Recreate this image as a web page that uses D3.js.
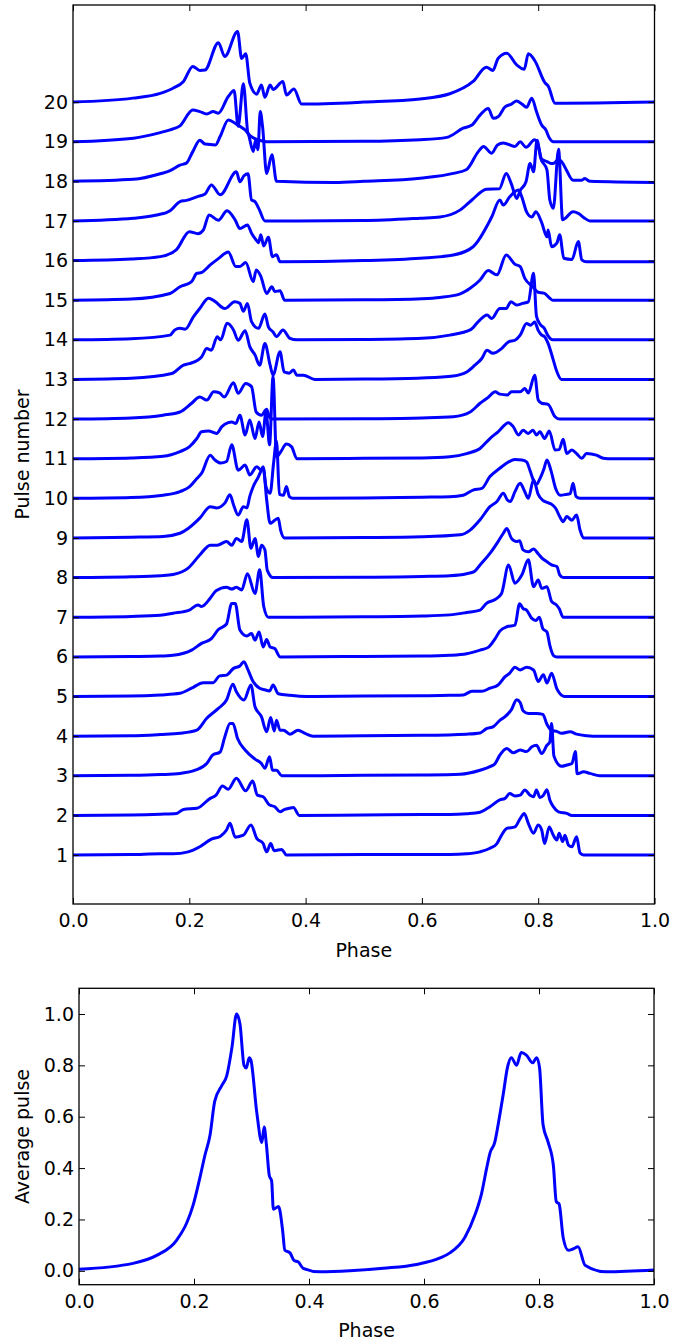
<!DOCTYPE html>
<html>
<head>
<meta charset="utf-8">
<script src="https://cdn.jsdelivr.net/npm/d3@7"></script>
<style>
  body { margin: 0; background: #fff; }
  text { font-family: "DejaVu Sans", sans-serif; }
</style>
</head>
<body>
<div id="chart"></div>
<script>
// each pulse: [phase, height above its own baseline]
const p1 = [[0,0],[0.1,0.01],[0.15,0.03],[0.172,0.03],[0.198,0.08],[0.218,0.21],[0.238,0.4],[0.253,0.47],[0.264,0.63],[0.27,0.8],[0.279,0.45],[0.293,0.5],[0.306,0.76],[0.316,0.42],[0.327,0.29],[0.333,0.08],[0.34,0.29],[0.346,0.11],[0.359,0.14],[0.367,0],[0.5,0.01],[0.6,0.01],[0.648,0.01],[0.677,0.03],[0.7,0.08],[0.717,0.17],[0.729,0.29],[0.737,0.5],[0.746,0.67],[0.76,0.71],[0.769,0.92],[0.776,1.05],[0.783,0.8],[0.792,0.55],[0.8,0.76],[0.806,0.63],[0.811,0.29],[0.819,0.71],[0.826,0.5],[0.832,0.38],[0.836,0.55],[0.842,0.34],[0.846,0.5],[0.852,0.25],[0.858,0.21],[0.866,0.46],[0.872,0.05],[0.878,0],[1,0]];
const p2 = [[0,0],[0.1,0.01],[0.15,0.03],[0.178,0.05],[0.19,0.15],[0.213,0.18],[0.236,0.43],[0.246,0.51],[0.257,0.74],[0.267,0.66],[0.281,0.94],[0.297,0.62],[0.309,0.87],[0.317,0.51],[0.327,0.47],[0.338,0.26],[0.347,0.22],[0.356,0.09],[0.364,0.15],[0.372,0.18],[0.379,0.2],[0.389,0],[0.5,0.01],[0.6,0.02],[0.648,0.02],[0.677,0.04],[0.7,0.08],[0.717,0.22],[0.734,0.39],[0.743,0.43],[0.751,0.55],[0.76,0.49],[0.769,0.51],[0.777,0.64],[0.786,0.51],[0.792,0.47],[0.797,0.64],[0.803,0.45],[0.809,0.51],[0.815,0.65],[0.82,0.39],[0.826,0.22],[0.835,0.09],[0.849,0.05],[0.858,0],[1,0]];
const p3 = [[0,0],[0.1,0.01],[0.15,0.03],[0.184,0.06],[0.21,0.14],[0.23,0.31],[0.24,0.52],[0.253,0.6],[0.261,0.98],[0.27,1.32],[0.275,1.32],[0.283,0.94],[0.296,0.65],[0.313,0.42],[0.324,0.31],[0.33,0.19],[0.338,0.48],[0.343,0.14],[0.35,0.14],[0.359,0],[0.5,0.01],[0.6,0.02],[0.666,0.04],[0.7,0.14],[0.717,0.23],[0.726,0.31],[0.734,0.52],[0.746,0.69],[0.757,0.58],[0.769,0.65],[0.78,0.61],[0.789,0.73],[0.797,0.77],[0.806,0.56],[0.815,0.77],[0.82,0.85],[0.823,1.32],[0.827,0.5],[0.84,0.24],[0.849,0.27],[0.858,0.31],[0.864,0.61],[0.867,0.05],[0.878,0.1],[0.889,0.06],[0.906,0],[1,0]];
const p4 = [[0,0],[0.1,0.01],[0.15,0.04],[0.184,0.07],[0.213,0.15],[0.23,0.45],[0.25,0.7],[0.264,0.91],[0.275,1.31],[0.281,1.12],[0.294,0.91],[0.306,1.29],[0.313,0.74],[0.324,0.49],[0.333,0.11],[0.34,0.47],[0.346,0.13],[0.35,0.4],[0.356,0.15],[0.362,0.15],[0.373,0.05],[0.387,0.15],[0.399,0.07],[0.413,0],[0.5,0.01],[0.6,0.02],[0.677,0.05],[0.7,0.08],[0.711,0.19],[0.723,0.24],[0.734,0.4],[0.743,0.49],[0.754,0.67],[0.763,0.92],[0.769,0.85],[0.774,0.64],[0.783,0.57],[0.797,0.57],[0.808,0.55],[0.815,0.3],[0.823,0.15],[0.832,0.12],[0.84,0.07],[0.855,0.11],[0.866,0.05],[0.883,0.01],[0.894,0],[1,0]];
const p5 = [[0,0],[0.1,0.01],[0.15,0.04],[0.184,0.08],[0.204,0.21],[0.224,0.35],[0.241,0.35],[0.252,0.52],[0.264,0.54],[0.276,0.71],[0.287,0.77],[0.294,0.88],[0.301,0.67],[0.31,0.37],[0.321,0.21],[0.33,0.17],[0.338,0.14],[0.344,0.29],[0.353,0.07],[0.373,0.03],[0.402,0],[0.5,0.01],[0.6,0.02],[0.648,0.03],[0.671,0.04],[0.686,0.13],[0.703,0.13],[0.717,0.21],[0.731,0.29],[0.743,0.5],[0.751,0.59],[0.76,0.74],[0.769,0.67],[0.78,0.74],[0.792,0.67],[0.8,0.38],[0.809,0.55],[0.815,0.34],[0.823,0.59],[0.832,0.2],[0.837,0.08],[0.846,0],[1,0]];
const p6 = [[0,0],[0.1,0.01],[0.15,0.02],[0.172,0.04],[0.204,0.17],[0.221,0.34],[0.238,0.46],[0.25,0.69],[0.264,0.83],[0.273,1.35],[0.279,1.35],[0.287,0.68],[0.299,0.53],[0.307,0.59],[0.313,0.42],[0.32,0.63],[0.327,0.25],[0.333,0.44],[0.339,0.25],[0.347,0.21],[0.356,0],[0.5,0.01],[0.6,0.02],[0.648,0.04],[0.677,0.08],[0.7,0.17],[0.714,0.24],[0.726,0.46],[0.734,0.65],[0.746,0.76],[0.76,0.8],[0.768,1.34],[0.774,1.22],[0.78,1.18],[0.789,0.97],[0.796,0.92],[0.802,1.0],[0.808,0.71],[0.815,0.63],[0.82,0.29],[0.826,0.04],[0.832,0],[1,0]];
const p7 = [[0,0],[0.1,0.02],[0.15,0.05],[0.172,0.1],[0.2,0.18],[0.215,0.31],[0.221,0.27],[0.236,0.48],[0.246,0.67],[0.264,0.76],[0.273,0.71],[0.281,0.76],[0.29,0.69],[0.3,1.1],[0.313,0.6],[0.321,1.2],[0.328,0.27],[0.336,0],[0.5,0.01],[0.6,0.03],[0.648,0.06],[0.677,0.12],[0.7,0.18],[0.711,0.35],[0.726,0.45],[0.737,0.6],[0.749,1.32],[0.76,0.86],[0.772,1.07],[0.783,1.45],[0.792,0.77],[0.8,0.94],[0.806,0.73],[0.815,0.77],[0.823,0.4],[0.832,0.3],[0.836,0.22],[0.843,0],[1,0]];
const p8 = [[0,0],[0.1,0.02],[0.15,0.05],[0.172,0.08],[0.198,0.24],[0.218,0.57],[0.236,0.82],[0.248,0.82],[0.264,0.91],[0.273,0.82],[0.281,0.99],[0.29,0.91],[0.299,1.46],[0.306,0.74],[0.313,0.99],[0.319,0.53],[0.324,0.82],[0.33,0.7],[0.334,0.19],[0.344,0],[0.5,0.01],[0.6,0.03],[0.648,0.05],[0.677,0.1],[0.69,0.15],[0.7,0.32],[0.717,0.61],[0.731,0.91],[0.74,1.12],[0.746,1.24],[0.754,0.99],[0.763,0.91],[0.768,0.93],[0.774,0.7],[0.783,0.65],[0.792,0.72],[0.8,0.6],[0.806,0.5],[0.815,0.4],[0.823,0.32],[0.832,0.28],[0.837,0.07],[0.843,0],[1,0]];
const p9 = [[0,0],[0.1,0.02],[0.155,0.04],[0.184,0.12],[0.198,0.24],[0.218,0.5],[0.236,0.79],[0.247,0.76],[0.261,0.88],[0.27,1.09],[0.276,0.84],[0.284,0.58],[0.293,0.79],[0.299,0.76],[0.304,1.05],[0.31,1.3],[0.319,1.55],[0.324,1.72],[0.327,1.8],[0.333,0.97],[0.339,0.37],[0.347,0.45],[0.353,0.5],[0.357,0.2],[0.364,0],[0.5,0.01],[0.6,0.03],[0.666,0.08],[0.683,0.2],[0.7,0.46],[0.717,0.79],[0.729,0.92],[0.74,1.13],[0.747,0.96],[0.752,0.92],[0.76,1.17],[0.769,1.38],[0.776,1.2],[0.783,1.0],[0.792,1.47],[0.8,1.1],[0.808,0.95],[0.815,0.9],[0.823,0.85],[0.83,0.75],[0.837,0.54],[0.843,0.41],[0.849,0.54],[0.858,0.45],[0.866,0.58],[0.872,0.2],[0.878,0],[1,0]];
const p10 = [[0,0],[0.1,0.02],[0.155,0.08],[0.184,0.17],[0.2,0.29],[0.213,0.5],[0.221,0.63],[0.236,1.09],[0.244,0.97],[0.254,0.89],[0.264,0.93],[0.273,1.35],[0.284,0.71],[0.296,0.84],[0.304,0.59],[0.316,0.8],[0.323,0.72],[0.327,0.76],[0.332,0.29],[0.339,0.13],[0.345,0.9],[0.35,1.45],[0.355,0.1],[0.362,0.08],[0.367,0.3],[0.372,0.05],[0.378,0],[0.5,0.01],[0.6,0.03],[0.648,0.04],[0.671,0.08],[0.688,0.21],[0.703,0.25],[0.717,0.55],[0.734,0.76],[0.749,0.92],[0.76,0.98],[0.772,0.97],[0.78,0.92],[0.786,0.7],[0.792,0.45],[0.797,0.35],[0.803,0.5],[0.81,0.75],[0.815,0.97],[0.822,0.7],[0.83,0.25],[0.838,0.08],[0.848,0.1],[0.855,0.12],[0.86,0.38],[0.865,0.05],[0.872,0],[1,0]];
const p11 = [[0,0],[0.1,0.02],[0.155,0.06],[0.184,0.18],[0.2,0.3],[0.213,0.51],[0.221,0.68],[0.233,0.7],[0.247,0.64],[0.256,0.81],[0.267,0.91],[0.273,0.93],[0.28,0.89],[0.287,1.1],[0.296,0.6],[0.304,0.98],[0.313,0.51],[0.32,0.93],[0.326,0.56],[0.332,1.19],[0.338,0.35],[0.344,2.07],[0.35,0.05],[0.357,0.17],[0.367,0.37],[0.376,0.3],[0.385,0],[0.5,0.01],[0.6,0.02],[0.648,0.05],[0.677,0.13],[0.7,0.26],[0.717,0.51],[0.731,0.68],[0.749,0.91],[0.757,0.81],[0.766,0.6],[0.774,0.72],[0.783,0.64],[0.791,0.72],[0.797,0.6],[0.803,0.68],[0.811,0.51],[0.819,0.7],[0.829,0.22],[0.836,0.23],[0.843,0.49],[0.849,0.13],[0.858,0.22],[0.866,0.13],[0.875,0.01],[0.883,0.13],[0.9,0.09],[0.912,0.01],[0.92,0],[1,0]];
const p12 = [[0,0],[0.1,0.03],[0.155,0.1],[0.184,0.18],[0.204,0.4],[0.218,0.56],[0.23,0.48],[0.242,0.69],[0.252,0.66],[0.26,0.56],[0.276,0.92],[0.284,0.65],[0.297,0.9],[0.307,0.82],[0.315,0.18],[0.324,0.1],[0.333,0.25],[0.338,0.05],[0.343,0],[0.5,0.01],[0.6,0.03],[0.654,0.06],[0.683,0.18],[0.7,0.4],[0.714,0.55],[0.726,0.69],[0.734,0.63],[0.747,0.61],[0.754,0.69],[0.769,0.69],[0.777,0.77],[0.783,0.66],[0.794,1.11],[0.8,0.48],[0.806,0.4],[0.817,0.37],[0.829,0.06],[0.837,0],[1,0]];
const p13 = [[0,0],[0.1,0.03],[0.17,0.15],[0.19,0.36],[0.2,0.4],[0.221,0.57],[0.23,0.78],[0.238,0.74],[0.248,1.08],[0.254,1.0],[0.265,1.42],[0.276,1.25],[0.284,0.99],[0.296,1.23],[0.304,0.83],[0.313,0.62],[0.321,0.36],[0.33,0.91],[0.339,0.36],[0.344,0.11],[0.356,0.7],[0.363,0.19],[0.372,0.16],[0.379,0.24],[0.385,0.11],[0.396,0.11],[0.416,0],[0.5,0.01],[0.6,0.04],[0.654,0.09],[0.677,0.19],[0.691,0.36],[0.703,0.53],[0.712,0.74],[0.722,0.66],[0.737,0.78],[0.749,0.95],[0.76,0.99],[0.769,1.12],[0.78,1.41],[0.787,1.37],[0.794,1.45],[0.8,1.24],[0.806,1.12],[0.811,1.08],[0.817,0.91],[0.826,0.49],[0.832,0.2],[0.84,0],[1,0]];
const p14 = [[0,0],[0.1,0.03],[0.167,0.12],[0.175,0.25],[0.184,0.29],[0.193,0.27],[0.207,0.58],[0.218,0.79],[0.233,1.05],[0.244,0.97],[0.261,0.79],[0.278,0.96],[0.287,0.92],[0.293,0.72],[0.3,0.92],[0.307,0.46],[0.319,0.29],[0.33,0.65],[0.336,0.33],[0.344,0.2],[0.35,0.08],[0.361,0.25],[0.373,0.04],[0.385,0],[0.5,0.01],[0.6,0.04],[0.648,0.12],[0.683,0.25],[0.697,0.46],[0.712,0.63],[0.72,0.54],[0.734,0.79],[0.745,0.79],[0.753,0.96],[0.763,0.88],[0.773,0.92],[0.783,0.96],[0.792,1.68],[0.797,0.6],[0.803,0.4],[0.81,0.3],[0.817,0.1],[0.825,0],[1,0]];
const p15 = [[0,0],[0.1,0.03],[0.167,0.17],[0.184,0.34],[0.204,0.47],[0.213,0.68],[0.221,0.7],[0.236,0.89],[0.25,1.05],[0.267,1.22],[0.28,0.85],[0.287,0.85],[0.297,0.95],[0.31,0.47],[0.315,0.76],[0.323,0.6],[0.333,0.17],[0.342,0.34],[0.347,0.22],[0.356,0.24],[0.364,0],[0.5,0.01],[0.6,0.04],[0.631,0.07],[0.666,0.16],[0.683,0.3],[0.7,0.51],[0.714,0.75],[0.729,0.64],[0.745,1.14],[0.76,0.91],[0.769,0.85],[0.777,0.55],[0.79,0.35],[0.8,0.2],[0.81,0.18],[0.82,0.05],[0.825,0],[1,0]];
const p16 = [[0,0],[0.1,0.04],[0.15,0.1],[0.178,0.28],[0.2,0.73],[0.215,0.68],[0.224,0.77],[0.234,1.15],[0.25,1.02],[0.265,1.26],[0.279,1.02],[0.287,0.81],[0.3,0.9],[0.307,0.69],[0.315,0.52],[0.319,0.45],[0.323,0.65],[0.328,0.37],[0.336,0.59],[0.343,0.1],[0.35,0.15],[0.356,-0.03],[0.5,0],[0.597,0.06],[0.654,0.14],[0.688,0.35],[0.72,1.1],[0.734,1.53],[0.74,1.4],[0.751,1.61],[0.766,1.78],[0.772,1.6],[0.78,1.23],[0.789,1.1],[0.796,1.23],[0.806,0.96],[0.815,0.6],[0.817,0.77],[0.823,0.35],[0.832,0.44],[0.837,0.65],[0.844,0.06],[0.858,0.03],[0.869,0.48],[0.875,0.02],[0.883,-0.03],[1,-0.03]];
const p17 = [[0,0],[0.104,0.07],[0.144,0.15],[0.167,0.26],[0.184,0.49],[0.195,0.52],[0.213,0.61],[0.227,0.68],[0.238,0.91],[0.253,0.66],[0.281,1.24],[0.287,0.99],[0.294,1.14],[0.301,1.19],[0.307,0.53],[0.313,0.49],[0.32,0.3],[0.33,0],[0.5,0.01],[0.597,0.07],[0.631,0.1],[0.666,0.28],[0.686,0.53],[0.711,0.8],[0.733,0.81],[0.745,1.2],[0.754,0.93],[0.763,0.57],[0.769,0.77],[0.779,0.99],[0.786,1.45],[0.792,1.24],[0.798,2.04],[0.804,1.6],[0.815,1.29],[0.82,0.53],[0.826,0.32],[0.835,1.81],[0.842,0.03],[0.86,0.23],[0.869,0.19],[0.88,0.07],[0.889,0],[1,0]];
const p18 = [[0,0],[0.104,0.05],[0.15,0.19],[0.167,0.27],[0.184,0.41],[0.195,0.46],[0.206,0.75],[0.218,1.04],[0.227,0.94],[0.245,0.92],[0.253,1.13],[0.267,1.55],[0.283,1.42],[0.301,1.21],[0.31,0.75],[0.314,1.04],[0.318,0.8],[0.322,1.76],[0.326,1.38],[0.333,0.2],[0.342,0.67],[0.35,0],[0.45,-0.03],[0.5,0],[0.597,0.08],[0.654,0.2],[0.677,0.3],[0.697,0.75],[0.706,0.88],[0.72,0.71],[0.73,0.92],[0.74,0.97],[0.76,0.88],[0.769,1.0],[0.779,0.86],[0.794,1.05],[0.8,0.9],[0.806,0.56],[0.815,0.5],[0.822,0.45],[0.826,0.45],[0.835,0.55],[0.842,0.46],[0.848,0.3],[0.86,0.03],[0.875,0.03],[0.88,0.07],[0.889,0],[1,-0.03]];
const p19 = [[0,0],[0.104,0.09],[0.15,0.23],[0.167,0.3],[0.184,0.4],[0.206,0.8],[0.218,0.76],[0.23,0.7],[0.241,0.76],[0.25,0.72],[0.267,1.14],[0.277,1.29],[0.284,0.39],[0.293,1.46],[0.301,0.21],[0.31,0.1],[0.325,0.02],[0.333,0],[0.5,0.01],[0.597,0.05],[0.643,0.11],[0.671,0.34],[0.686,0.42],[0.7,0.67],[0.714,0.84],[0.723,0.59],[0.731,0.63],[0.743,0.88],[0.754,0.95],[0.763,1.03],[0.772,0.95],[0.78,0.87],[0.789,1.1],[0.797,0.76],[0.806,0.42],[0.813,0.3],[0.819,0.1],[0.826,0],[1,0]];
const p20 = [[0,0],[0.103,0.1],[0.15,0.22],[0.172,0.35],[0.19,0.52],[0.206,0.9],[0.218,0.8],[0.227,0.81],[0.25,1.5],[0.261,1.15],[0.283,1.78],[0.29,1.1],[0.297,1.22],[0.304,0.48],[0.316,0.2],[0.324,0.43],[0.33,0.12],[0.339,0.43],[0.344,0.32],[0.361,0.52],[0.367,0.18],[0.38,0.33],[0.393,-0.05],[0.5,0],[0.597,0.08],[0.648,0.21],[0.688,0.52],[0.711,0.88],[0.722,0.8],[0.731,1.1],[0.746,1.23],[0.763,0.94],[0.776,0.83],[0.783,1.22],[0.794,1.05],[0.812,0.48],[0.817,0.41],[0.829,-0.03],[1,0]];

const pulses = [p1, p2, p3, p4, p5, p6, p7, p8, p9, p10, p11, p12, p13, p14, p15, p16, p17, p18, p19, p20];

const avgPulse = [[0,0.006],[0.094,0.029],[0.135,0.06],[0.17,0.12],[0.188,0.19],[0.199,0.26],[0.211,0.37],[0.219,0.45],[0.228,0.53],[0.236,0.66],[0.248,0.72],[0.257,0.76],[0.266,0.87],[0.274,1.0],[0.28,0.96],[0.287,0.8],[0.291,0.79],[0.296,0.83],[0.299,0.82],[0.309,0.62],[0.318,0.5],[0.322,0.56],[0.326,0.49],[0.331,0.37],[0.335,0.35],[0.338,0.24],[0.347,0.25],[0.354,0.16],[0.358,0.08],[0.367,0.07],[0.374,0.04],[0.381,0.035],[0.39,0.01],[0.419,-0.004],[0.471,0],[0.529,0.01],[0.587,0.025],[0.628,0.05],[0.645,0.07],[0.671,0.13],[0.689,0.22],[0.7,0.3],[0.709,0.4],[0.715,0.46],[0.723,0.5],[0.729,0.57],[0.738,0.69],[0.745,0.79],[0.752,0.83],[0.761,0.8],[0.769,0.85],[0.778,0.84],[0.789,0.81],[0.796,0.83],[0.801,0.79],[0.807,0.57],[0.816,0.5],[0.825,0.41],[0.83,0.27],[0.835,0.26],[0.842,0.13],[0.851,0.08],[0.859,0.085],[0.868,0.094],[0.88,0.022],[0.917,-0.004],[1,0.003]];

const phaseTicks = [0, 0.2, 0.4, 0.6, 0.8, 1.0];
const pulseTicks = d3.range(1, 21);
const avgTicks = [0, 0.2, 0.4, 0.6, 0.8, 1.0];

const W = 699, H = 1340;
const svg = d3.select("#chart").append("svg")
  .attr("width", W).attr("height", H);

// upper panel: stacked pulses
const boxTop = { left: 73, right: 654.5, top: 5, bottom: 904 };
const x1 = d3.scaleLinear().domain([0, 1]).range([boxTop.left, boxTop.right]);
const y1 = d3.scaleLinear().domain([-0.236, 22.45]).range([boxTop.bottom, boxTop.top]);

// lower panel: average pulse
const boxBot = { left: 79, right: 654, top: 988.3, bottom: 1284.7 };
const x2 = d3.scaleLinear().domain([0, 1]).range([boxBot.left, boxBot.right]);
const y2 = d3.scaleLinear().domain([-0.054, 1.1]).range([boxBot.bottom, boxBot.top]);

const fmt1 = d3.format(".1f");

function frame(box, xs, ys, xTicks, yTicks, yFmt) {
  const g = svg.append("g");
  const tk = 6;
  g.append("g").attr("transform", `translate(0,${box.bottom})`)
    .call(d3.axisBottom(xs).tickValues(xTicks).tickFormat(fmt1).tickSizeInner(-tk).tickSizeOuter(0).tickPadding(10));
  g.append("g").attr("transform", `translate(0,${box.top})`)
    .call(d3.axisTop(xs).tickValues(xTicks).tickFormat("").tickSizeInner(-tk).tickSizeOuter(0));
  g.append("g").attr("transform", `translate(${box.left},0)`)
    .call(d3.axisLeft(ys).tickValues(yTicks).tickFormat(yFmt).tickSizeInner(-tk).tickSizeOuter(0).tickPadding(5));
  g.append("g").attr("transform", `translate(${box.right},0)`)
    .call(d3.axisRight(ys).tickValues(yTicks).tickFormat("").tickSizeInner(-tk).tickSizeOuter(0));
  g.selectAll(".domain").remove();
  g.selectAll(".tick line").attr("stroke", "#000").attr("stroke-width", 1);
  g.selectAll(".tick text").attr("fill", "#000")
    .style("font-family", "'DejaVu Sans', sans-serif").style("font-size", "19px");
  g.append("rect")
    .attr("x", box.left).attr("y", box.top)
    .attr("width", box.right - box.left).attr("height", box.bottom - box.top)
    .attr("fill", "none").attr("stroke", "#000").attr("stroke-width", 1.3);
}

svg.append("clipPath").attr("id", "clipTop").append("rect")
  .attr("x", boxTop.left).attr("y", boxTop.top)
  .attr("width", boxTop.right - boxTop.left).attr("height", boxTop.bottom - boxTop.top);
svg.append("clipPath").attr("id", "clipBot").append("rect")
  .attr("x", boxBot.left).attr("y", boxBot.top)
  .attr("width", boxBot.right - boxBot.left).attr("height", boxBot.bottom - boxBot.top);

// pulses, each lifted by its pulse number
const gp = svg.append("g").attr("clip-path", "url(#clipTop)");
pulses.forEach(function (pts, i) {
  const line = d3.line()
    .x(d => x1(d[0]))
    .y(d => y1(d[1] + i + 1))
    .curve(d3.curveMonotoneX);
  gp.append("path").datum(pts)
    .attr("d", line)
    .attr("fill", "none")
    .attr("stroke", "#0000ff")
    .attr("stroke-width", 3)
    .attr("stroke-linejoin", "round");
});

const avgLine = d3.line()
  .x(d => x2(d[0]))
  .y(d => y2(d[1]))
  .curve(d3.curveMonotoneX);
svg.append("g").attr("clip-path", "url(#clipBot)")
  .append("path").datum(avgPulse)
  .attr("d", avgLine)
  .attr("fill", "none")
  .attr("stroke", "#0000ff")
  .attr("stroke-width", 3)
  .attr("stroke-linejoin", "round");

frame(boxTop, x1, y1, phaseTicks, pulseTicks, d3.format("d"));
frame(boxBot, x2, y2, phaseTicks, avgTicks, fmt1);

// axis titles
function label(txt, x, y, rot) {
  svg.append("text")
    .attr("transform", `translate(${x},${y})` + (rot ? " rotate(-90)" : ""))
    .attr("text-anchor", "middle")
    .style("font-size", "19px")
    .attr("fill", "#000")
    .text(txt);
}
label("Phase", (boxTop.left + boxTop.right) / 2, 957, false);
label("Pulse number", 29, (boxTop.top + boxTop.bottom) / 2, true);
label("Phase", (boxBot.left + boxBot.right) / 2, 1337, false);
label("Average pulse", 29, (boxBot.top + boxBot.bottom) / 2, true);
</script>
</body>
</html>
